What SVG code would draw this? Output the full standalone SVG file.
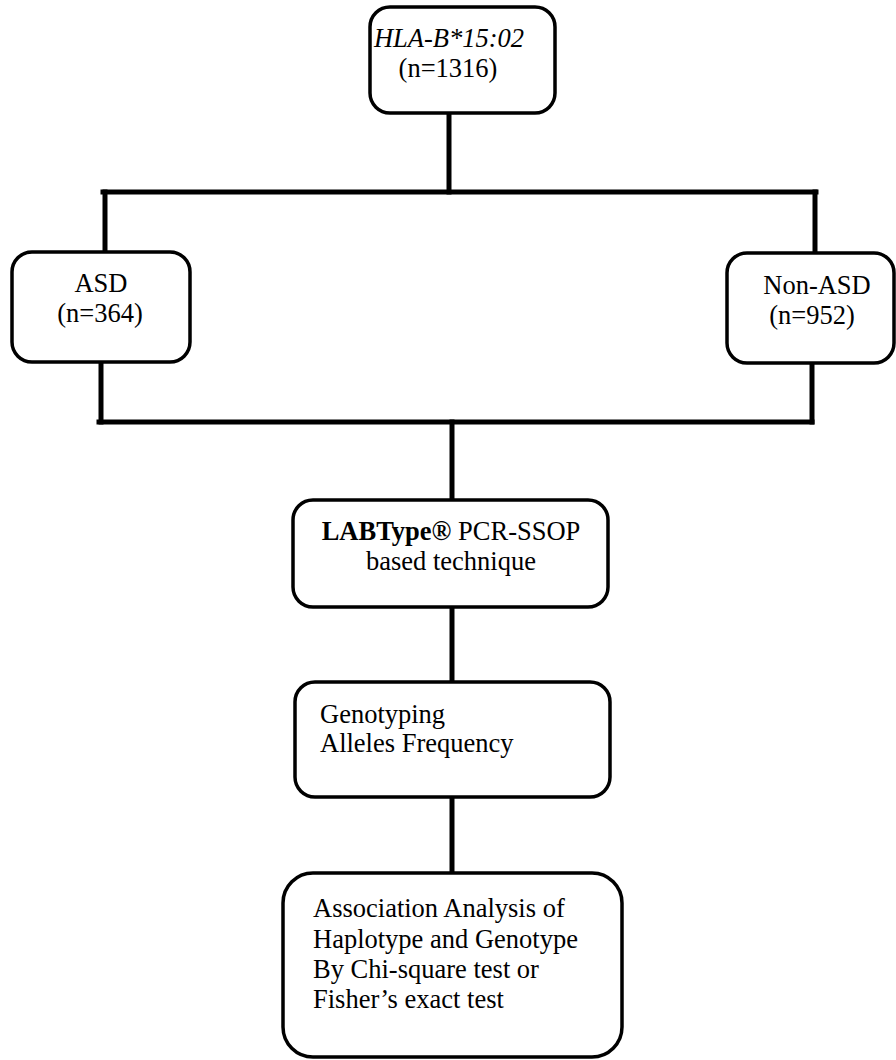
<svg xmlns="http://www.w3.org/2000/svg" width="896" height="1060" viewBox="0 0 896 1060">
<style>
.box{fill:#fff;stroke:#000;stroke-width:3.5}
.con{fill:none;stroke:#000;stroke-width:5;stroke-linecap:square}
text{font-family:"Liberation Serif","Times New Roman",serif;font-size:26.5px;fill:#000}
.c{text-anchor:middle}
</style>
<rect width="896" height="1060" fill="#fff"/>
<g id="connectors">
<path class="con" d="M449,113 V192"/>
<path class="con" d="M103,192 H816"/>
<path class="con" d="M105,192 V252"/>
<path class="con" d="M815,192 V253"/>
<path class="con" d="M101,362 V422"/>
<path class="con" d="M812,363 V422"/>
<path class="con" d="M99,422 H812"/>
<path class="con" d="M452,422 V500"/>
<path class="con" d="M452,607 V682"/>
<path class="con" d="M452,797 V873"/>
</g>
<g id="node-hla">
<rect class="box" x="370" y="7" width="185" height="106" rx="20"/>
<text class="c" x="449" y="47" font-style="italic">HLA-B*15:02</text>
<text class="c" x="448" y="77">(n=1316)</text>
</g>
<g id="node-asd">
<rect class="box" x="12" y="252" width="178" height="110" rx="20"/>
<text class="c" x="101" y="292">ASD</text>
<text class="c" x="100" y="322">(n=364)</text>
</g>
<g id="node-nonasd">
<rect class="box" x="727" y="253" width="167" height="110" rx="20"/>
<text class="c" x="817" y="294">Non-ASD</text>
<text class="c" x="812" y="324">(n=952)</text>
</g>
<g id="node-labtype">
<rect class="box" x="293" y="500" width="315" height="107" rx="20"/>
<text class="c" x="451" y="540"><tspan font-weight="bold">LABType®</tspan> PCR-SSOP</text>
<text class="c" x="451" y="570">based technique</text>
</g>
<g id="node-genotyping">
<rect class="box" x="295" y="682" width="315" height="115" rx="20"/>
<text x="320" y="723">Genotyping</text>
<text x="320" y="752">Alleles Frequency</text>
</g>
<g id="node-analysis">
<rect class="box" x="283" y="873" width="339" height="184" rx="30"/>
<text x="313" y="917">Association Analysis of</text>
<text x="313" y="948">Haplotype and Genotype</text>
<text x="313" y="978">By Chi-square test or</text>
<text x="313" y="1008">Fisher’s exact test</text>
</g>
</svg>
